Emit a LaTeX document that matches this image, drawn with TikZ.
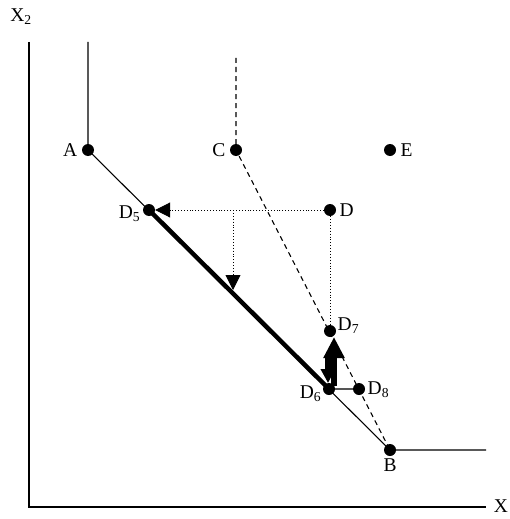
\documentclass[tikz,border=0pt]{standalone}
\usepackage{fontspec}
\setmainfont{Liberation Serif}
\usepackage{xcolor}
\usepackage{tikz}
\usetikzlibrary{arrows.meta,positioning}
\definecolor{ink}{HTML}{000000}
\definecolor{linkgray}{HTML}{555555}
\newcommand{\sublabel}[2]{#1\textsubscript{#2}}

\begin{document}
\begin{tikzpicture}[x=1pt,y=-1pt,
    every node/.style={font=\fontsize{19.5}{22}\selectfont, text=ink},
    dot/.style={circle, fill=ink, inner sep=0pt, minimum size=12pt},
    budget/.style={draw=ink, line width=1.1pt},
    kinked/.style={draw=ink, line width=1.1pt, dash pattern=on 5pt off 4pt},
    guide/.style={draw=ink, line width=0.9pt, dotted},
    bigarrow/.style={draw=ink, line width=6pt, -{Triangle[length=21pt,width=20pt]}}]
  \useasboundingbox (0,0) rectangle (510,519);

  % axes
  \coordinate (origin) at (29,507);
  \coordinate (ytop) at (29,42);
  \coordinate (xend) at (486,507);
  \draw[budget] (ytop) -- (origin) -- (xend);
  \node (xlabel) at (501,506) {X};
  \node (ylabel) at (21,17) {\sublabel{X}{2}};

  % bundles
  \node[dot, label={[xshift=-1pt]left:A}] (A) at (88,150) {};
  \node[dot, label={[xshift=-1pt]left:C}] (C) at (236,150) {};
  \node[dot, label={[xshift=1pt]right:E}] (E) at (390,150) {};
  \node[dot, label={[xshift=0pt]right:D}] (D) at (330,210) {};
  \node[dot, label={[xshift=1pt,yshift=-4pt]left:\sublabel{D}{5}}] (D5) at (149,210) {};
  \node[dot, label={[xshift=-2pt,yshift=5pt]right:\sublabel{D}{7}}] (D7) at (330,331) {};
  \node[dot, label={[xshift=2pt,yshift=-5pt]left:\sublabel{D}{6}}] (D6) at (329,389) {};
  \node[dot, label={[xshift=-1pt,yshift=-1pt]right:\sublabel{D}{8}}] (D8) at (359,389) {};
  \node[dot, label={[yshift=1pt]below:B}] (B) at (390,450) {};

  \coordinate (Atop) at (88,42);
  \coordinate (Ctop) at (236,58);
  \coordinate (Bend) at (486,450);
  \coordinate (split) at (233,210);
  \coordinate (splitend) at (233,290);

  % frontiers
  \draw[budget] (Atop) -- (A.center) -- (B.center) -- (Bend);
  \draw[kinked] (Ctop) -- (C.center) -- (B.center);
  \draw[draw=ink, line width=4.5pt] (D5.center) -- (D6.center);

  % moves
  \draw[guide, -{Triangle[length=15pt,width=15pt]}] (D) -- (D5);
  \draw[guide, -{Triangle[length=15pt,width=15pt]}] (split) -- (splitend);
  \draw[guide] (D) -- (D7);
  \draw[draw=linkgray, line width=1.2pt] (D6) -- (D8);
  \draw[bigarrow] ([xshift=5pt,yshift=3pt]D6.center) -- ([xshift=4pt,yshift=-6pt]D7.center);
  \draw[draw=ink, line width=6pt, -{Triangle[length=14pt,width=14pt]}]
    ([xshift=-1pt,yshift=33pt]D6.center) -- ([xshift=-1pt,yshift=6pt]D6.center);
\end{tikzpicture}
\end{document}
